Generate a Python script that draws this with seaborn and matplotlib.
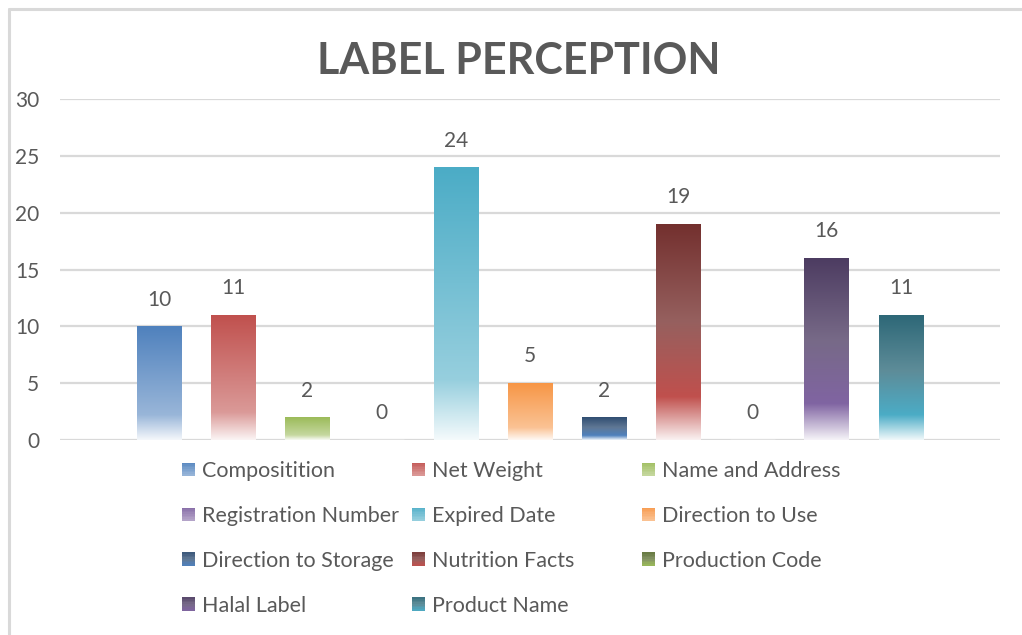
import numpy as np
import pandas as pd
import matplotlib
matplotlib.use("Agg")
import matplotlib.pyplot as plt
import seaborn as sns
from matplotlib.colors import to_rgb, LinearSegmentedColormap
from matplotlib.legend_handler import HandlerBase
from matplotlib.patches import Rectangle, Patch
from matplotlib.lines import Line2D

# ---- data -------------------------------------------------------------
categories = ["Compositition", "Net Weight", "Name and Address",
              "Registration Number", "Expired Date", "Direction to Use",
              "Direction to Storage", "Nutrition Facts", "Production Code",
              "Halal Label", "Product Name"]
counts = [10, 11, 2, 0, 24, 5, 2, 19, 0, 16, 11]
base_colors = ["#4F81BD", "#C0504D", "#9BBB59", "#8064A2", "#4BACC6", "#F79646",
               "#4F81BD", "#C0504D", "#9BBB59", "#8064A2", "#4BACC6"]
shades = ["light"] * 6 + ["dark"] * 5
y_ticks = [0, 5, 10, 15, 20, 25, 30]
title = "LABEL PERCEPTION"

TEXT = "#595959"
FONT = "Lato"
W, H = 1022, 635


def mix(c, other, t):
    c = np.array(to_rgb(c))
    o = np.array(to_rgb(other))
    return tuple(c * (1 - t) + o * t)


def gradient_stops(color, shade):
    """Top-to-bottom colour stops of a bar fill."""
    if shade == "light":
        return [(0.0, mix(color, "white", 0.0)),
                (0.78, mix(color, "white", 0.42)),
                (1.0, mix(color, "white", 0.94))]
    return [(0.0, mix(color, "black", 0.40)),
            (0.45, mix(mix(color, "black", 0.2), "#909090", 0.40)),
            (0.80, mix(color, "white", 0.0)),
            (1.0, mix(color, "white", 0.92))]


cmaps = [LinearSegmentedColormap.from_list(f"g{i}", gradient_stops(c, s))
         for i, (c, s) in enumerate(zip(base_colors, shades))]

# ---- figure -----------------------------------------------------------
sns.set_theme(style="white")
plt.rcParams["font.family"] = [FONT, "DejaVu Sans"]

fig = plt.figure(figsize=(W / 100, H / 100), dpi=100)
ax = fig.add_axes([60 / W, 1 - 440 / H, 940 / W, 341 / H])

df = pd.DataFrame({"category": categories, "count": counts})
sns.barplot(data=df, x="category", y="count", hue="category", order=categories,
            hue_order=categories, palette=dict(zip(categories, base_colors)),
            dodge=False, legend=False, width=0.6, errorbar=None, ax=ax)

ax.set_yticks(y_ticks)
ax.set_yticklabels([str(t) for t in y_ticks], fontsize=15, color=TEXT, family=FONT)
ax.tick_params(axis="y", length=0, pad=15)
ax.set_xticks([])
ax.set_xlabel("")
ax.set_ylabel("")
for sp in ax.spines.values():
    sp.set_visible(False)
ax.yaxis.grid(True, color="#D9D9D9", lw=1.6)
ax.set_axisbelow(True)

# gradient fills, clipped to each bar rectangle
grad = np.linspace(0, 1, 256).reshape(-1, 1)
for i, container in enumerate(ax.containers):
    for bar in container:
        h = bar.get_height()
        if h <= 0:
            continue
        x0 = bar.get_x()
        w = bar.get_width()
        im = ax.imshow(grad, cmap=cmaps[i], aspect="auto", origin="upper",
                       extent=[x0, x0 + w, 0, h], zorder=2, interpolation="bilinear")
        im.set_clip_path(bar)
        bar.set_facecolor("none")
        bar.set_edgecolor("none")
    ax.bar_label(container, fmt="{:.0f}", padding=12, fontsize=15, color=TEXT,
                 family=FONT)
ax.set_xlim(-1.336, 11.336)
ax.set_ylim(0, 30)

# ---- title ------------------------------------------------------------
fig.text(519 / W, 1 - 61 / H, title, ha="center", va="center", fontsize=31,
         fontweight="bold", color=TEXT, family=FONT)


# ---- legend with small gradient squares --------------------------------
class GradientHandler(HandlerBase):
    def __init__(self, cmap, n=8):
        super().__init__()
        self.cmap = cmap
        self.n = n

    def create_artists(self, legend, orig_handle, xdescent, ydescent, width,
                       height, fontsize, trans):
        side = min(width, height)
        x0 = -xdescent + (width - side) / 2
        y0 = -ydescent + (height - side) / 2
        arts = []
        step = side / self.n
        for k in range(self.n):
            c = self.cmap(0.15 + 0.6 * k / (self.n - 1))
            r = Rectangle((x0, y0 + side - (k + 1) * step), side, step + 0.3,
                          facecolor=c, edgecolor="none", transform=trans)
            arts.append(r)
        return arts


handles = [Patch(label=c) for c in categories]
col_x = [182, 412, 642]
col_members = [[0, 3, 6, 9], [1, 4, 7, 10], [2, 5, 8]]
for cx, members in zip(col_x, col_members):
    hs = [handles[m] for m in members]
    fig.legend(handles=hs, labels=[categories[m] for m in members],
               handler_map={handles[m]: GradientHandler(cmaps[m]) for m in members},
               loc="upper left", bbox_to_anchor=(cx / W, 1 - 461 / H),
               frameon=False, labelcolor=TEXT,
               handlelength=0.6, handleheight=0.6, handletextpad=0.35,
               labelspacing=1.16, borderpad=0, borderaxespad=0,
               prop={"family": FONT, "size": 15.5})

# ---- outer frame ------------------------------------------------------
fig.add_artist(Line2D([9 / W, 1], [1 - 9 / H, 1 - 9 / H], transform=fig.transFigure,
                      color="#D9D9D9", lw=2.2))
fig.add_artist(Line2D([9 / W, 9 / W], [0, 1 - 9 / H], transform=fig.transFigure,
                      color="#D9D9D9", lw=2.2))

fig.savefig("out.png", dpi=100, facecolor="white")
